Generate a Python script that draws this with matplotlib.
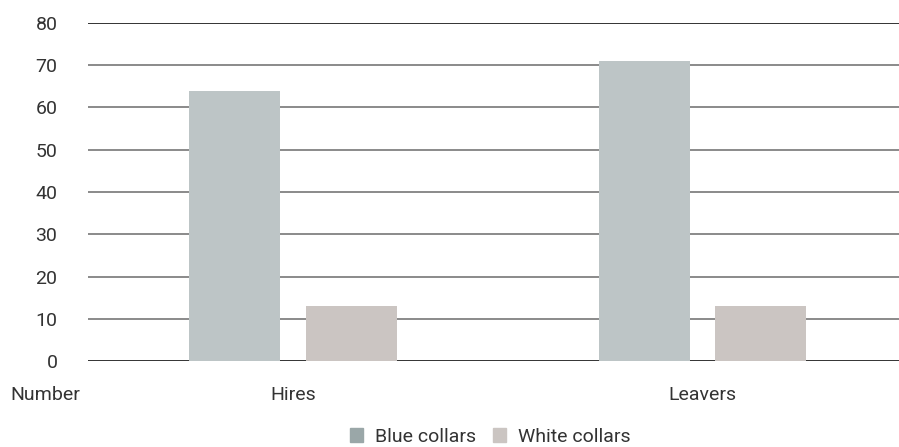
import matplotlib.pyplot as plt
import numpy as np

plt.rcParams['font.family'] = ['Roboto', 'DejaVu Sans']

categories = ["Hires", "Leavers"]
blue_collars = [64, 71]
white_collars = [13, 13]
yticks = [0, 10, 20, 30, 40, 50, 60, 70, 80]

fig = plt.figure(figsize=(8.99, 4.47), dpi=100)
ax = fig.add_axes([88 / 899, 86 / 447, 811 / 899, 338 / 447])

x = np.arange(len(categories))
w = 0.2225
off = 0.1424
ax.bar(x - off, blue_collars, w, color='#bdc5c6', zorder=3)
ax.bar(x + off, white_collars, w, color='#cbc5c2', zorder=3)

for t in yticks:
    c = '#111111' if t in (0, 80) else '#777777'
    ax.axhline(t, color=c, lw=1.2, zorder=2)

ax.set_xlim(-0.501, 1.48)
ax.set_ylim(0, 80)
ax.set_yticks(yticks)
ax.set_yticklabels([str(t) for t in yticks], fontsize=14, color='#333333')
ax.set_xticks(x)
ax.set_xticklabels(categories, fontsize=14, color='#333333')
ax.tick_params(length=0)
ax.tick_params(axis='y', pad=22)
ax.tick_params(axis='x', pad=18)
for s in ax.spines.values():
    s.set_visible(False)

fig.text(10 / 899, 1 - 395 / 447, "Number", fontsize=14, color='#333333', va='center', ha='left')

h1 = plt.Rectangle((0, 0), 1, 1, color='#9aa7a8')
h2 = plt.Rectangle((0, 0), 1, 1, color='#cbc5c2')
fig.legend([h1, h2], ["Blue collars", "White collars"], loc='center',
           bbox_to_anchor=(490 / 899, 1 - 437 / 447), ncol=2, frameon=False,
           fontsize=14, handlelength=0.7, handleheight=0.7, handletextpad=0.6,
           columnspacing=0.85, labelcolor='#333333', borderpad=0)

fig.savefig("out.png", dpi=100)
